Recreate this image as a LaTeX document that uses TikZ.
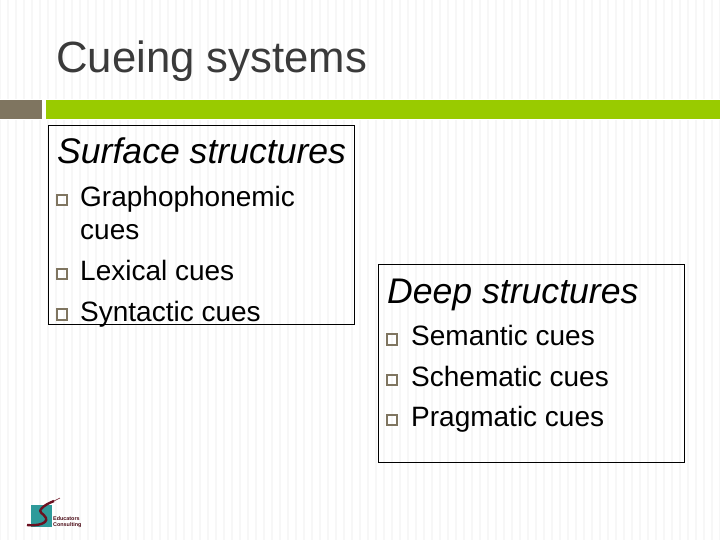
\documentclass[tikz,border=0pt]{standalone}
\usepackage{fontspec}
\setmainfont{Liberation Sans}
\definecolor{barbrown}{HTML}{7F7560}
\definecolor{bargreen}{HTML}{99CB00}
\definecolor{stripecol}{HTML}{F7F7F7}
\definecolor{titlecol}{HTML}{3A3A3A}
\definecolor{logoteal}{HTML}{2E9A9A}
\definecolor{logored}{HTML}{6B1020}
\tikzset{
  headtext/.style={anchor=base west, inner sep=0pt, font=\fontsize{35.6}{40}\selectfont\itshape},
  itemtext/.style={anchor=base west, inner sep=0pt, font=\fontsize{28}{33}\selectfont},
  itembullet/.style={draw=barbrown, line width=2.1pt, minimum size=10.2pt, inner sep=0pt, outer sep=0pt},
  logotext/.style={anchor=base west, inner sep=0pt, text=logored!70!black, font=\fontsize{5.4}{6}\selectfont\bfseries},
  framebox/.style={draw=black, line width=0.9pt}
}
\begin{document}
\begin{tikzpicture}[x=1pt, y=-1pt]
\useasboundingbox (0, 0) rectangle (720, 540);
\fill[white](0, 0) rectangle (720, 540);
\fill[stripecol](0, 0) rectangle (1, 540);
\foreach \x in {7, 15, ..., 719}
  \fill[stripecol](\x, 0) rectangle (\x + 2.4, 540);
% title and bars
\node [anchor=base west, inner sep=0pt, text=titlecol, font=\fontsize{43.7}{48}\selectfont] (title) at (56, 73) {Cueing systems};
\fill[white](0, 99) rectangle (720, 120);
\fill[barbrown](0, 100) rectangle (42, 119);
\fill[bargreen](46, 100) rectangle (720, 119);
% boxes
\draw [framebox](48, 125) rectangle (354.5, 324);
\draw [framebox](378, 264) rectangle (684.5, 462);
% left list
\node [headtext] (surface) at (57, 164) {Surface structures};
\node [itemtext] (graph) at (80, 207) {Graphophonemic};
\node [itemtext] (cues) at (80, 240) {cues};
\node [itemtext] (lexical) at (80, 280) {Lexical cues};
\node [itemtext] (syntactic) at (80, 321) {Syntactic cues};
\node [itembullet] (bgraph) at (62, 200) {};
\node [itembullet] (blexical) at (62, 274) {};
\node [itembullet] (bsyntactic) at (62, 314.5) {};
% right list
\node [headtext] (deep) at (387, 303) {Deep structures};
\node [itemtext] (semantic) at (411, 345) {Semantic cues};
\node [itemtext] (schematic) at (411, 386) {Schematic cues};
\node [itemtext] (pragmatic) at (411, 426) {Pragmatic cues};
\node [itembullet] (bsemantic) at (392, 339.5) {};
\node [itembullet] (bschematic) at (392, 380) {};
\node [itembullet] (bpragmatic) at (392, 420) {};
% logo
\fill[logoteal](31, 505) rectangle (52, 527);
\draw [logored, line width=2.4pt](27, 525) .. controls (36, 526) and (48, 524) .. (46, 518) .. controls (44, 513) and (37, 513) .. (42, 508) .. controls (45, 505) and (49, 503) .. (54, 501);
\draw [logored, line width=0.6pt](54, 501) -- (60, 498);
\node [logotext] (logotop) at (53, 520) {Educators};
\node [logotext] (logobottom) at (53, 526) {Consulting};
\end{tikzpicture}
\end{document}
